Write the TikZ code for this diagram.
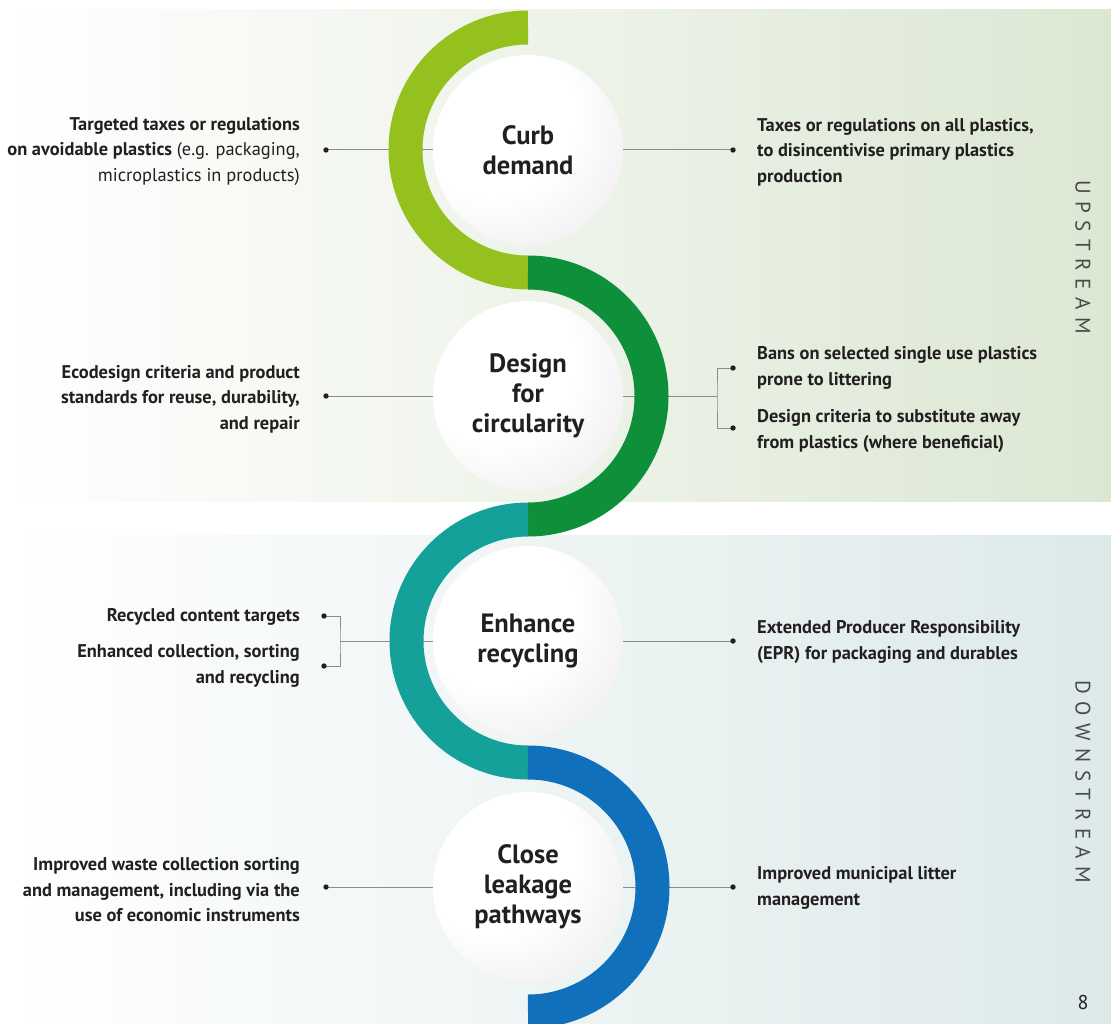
\documentclass[tikz,border=0pt]{standalone}
\usepackage{fontspec}
\setmainfont{PT Sans}
\usetikzlibrary{calc}

\definecolor{upcol}{HTML}{DCE7D3}
\definecolor{downcol}{HTML}{DDE9E9}
\definecolor{limearc}{HTML}{95C11F}
\definecolor{greenarc}{HTML}{0E8F3A}
\definecolor{tealarc}{HTML}{14A19A}
\definecolor{bluearc}{HTML}{1170BB}
\definecolor{txt}{HTML}{231F20}
\definecolor{linegray}{HTML}{8C8C8C}
\definecolor{labelgray}{HTML}{4A4A4A}
\definecolor{sphereedge}{HTML}{E8E5E5}
\definecolor{sphereedgeb}{HTML}{D9D4D4}

% soft sphere with the highlight towards the upper left
\pgfdeclareradialshading{sphere}{\pgfpoint{-14bp}{14bp}}{%
  color(0bp)=(white); color(22bp)=(white); color(48bp)=(sphereedge); color(70bp)=(sphereedgeb)}

\begin{document}
\begin{tikzpicture}[x=1pt, y=-1pt,
  bubble/.style={circle, minimum size=190pt, inner sep=0pt, shading=sphere,
    align=center, text=txt, font=\bfseries\fontsize{26.5}{30}\selectfont},
  ltxt/.style={anchor=east, align=right, inner sep=0pt, text=txt,
    font=\bfseries\fontsize{18.4}{25.5}\selectfont},
  rtxt/.style={anchor=west, align=left, inner sep=0pt, text=txt,
    font=\bfseries\fontsize{18.4}{25.5}\selectfont},
  conn/.style={draw=linegray, line width=1pt},
  dot/.style={fill=txt},
  band/.style={line width=34pt},
  sidelabel/.style={rotate=-90, text=labelgray,
    font=\fontsize{21}{22}\selectfont\addfontfeatures{LetterSpace=36}}
]
\useasboundingbox (0,0) rectangle (1111,1024);
\fill[white] (0,0) rectangle (1111,1024);

% upstream and downstream panels
\shade[left color=white, right color=upcol] (0,10) rectangle (1111,501);
\shade[left color=white, right color=downcol] (0,535) rectangle (1111,1024);

% the four stages
\node[bubble] (c1) at (528,150) {Curb\\demand};
\node[bubble] (c2) at (528,396) {Design\\for\\circularity};
\node[bubble] (c3) at (528,641) {Enhance\\recycling};
\node[bubble] (c4) at (528,887) {Close\\leakage\\pathways};

% connector end points
\coordinate (l1) at (326,150);
\coordinate (r1) at (733,150);
\coordinate (l2) at (326,396);
\coordinate (r2j) at (717,396);
\coordinate (r2a) at (733,368);
\coordinate (r2b) at (733,428);
\coordinate (l3j) at (340,641);
\coordinate (l3a) at (324,616);
\coordinate (l3b) at (324,666);
\coordinate (r3) at (733,641);
\coordinate (l4) at (326,887);
\coordinate (r4) at (733,887);

% connectors
\draw[conn] (l1) -- (c1);
\draw[conn] (c1) -- (r1);
\draw[conn] (l2) -- (c2);
\draw[conn] (c2) -- (r2j);
\draw[conn] (r2a) -| (r2j) |- (r2b);
\draw[conn] (l3a) -| (l3j) |- (l3b);
\draw[conn] (l3j) -- (c3);
\draw[conn] (c3) -- (r3);
\draw[conn] (l4) -- (c4);
\draw[conn] (c4) -- (r4);

\foreach \p in {l1,r1,l2,r2a,r2b,l3a,l3b,r3,l4,r4}
  \fill[dot] (\p) circle[radius=2.7];

% the S-shaped band
\draw[band, limearc]  (528,27.5)  arc[start angle=-90, end angle=-270, radius=122.5];
\draw[band, greenarc] (528,272.5) arc[start angle=-90, end angle=90, radius=123.5];
\draw[band, tealarc]  (528,519.5) arc[start angle=-90, end angle=-270, radius=121.5];
\draw[band, bluearc]  (528,762.5) arc[start angle=-90, end angle=90, radius=124.5];

% measures on the left
\node[ltxt] at (300,151) {Targeted taxes or regulations\\on avoidable plastics {\mdseries(e.g. packaging,}\\{\mdseries microplastics in products)}};
\node[ltxt] at (300,399) {Ecodesign criteria and product\\standards for reuse, durability,\\and repair};
\node[ltxt] at (300,617) {Recycled content targets};
\node[ltxt] at (300,666) {Enhanced collection, sorting\\and recycling};
\node[ltxt] at (300,890) {Improved waste collection sorting\\and management, including via the\\use of economic instruments};

% measures on the right
\node[rtxt] at (757,152) {Taxes or regulations on all plastics,\\to disincentivise primary plastics\\production};
\node[rtxt] at (757,368) {Bans on selected single use plastics\\prone to littering};
\node[rtxt] at (757,431) {Design criteria to substitute away\\from plastics (where beneficial)};
\node[rtxt] at (757,642) {Extended Producer Responsibility\\(EPR) for packaging and durables};
\node[rtxt] at (757,888) {Improved municipal litter\\management};

% side labels and page number
\node[sidelabel] (up) at (1083,257) {UPSTREAM};
\node[sidelabel] (down) at (1083,782) {DOWNSTREAM};
\node[text=txt, font=\fontsize{20}{22}\selectfont] (pg) at (1083,1002) {8};
\end{tikzpicture}
\end{document}
